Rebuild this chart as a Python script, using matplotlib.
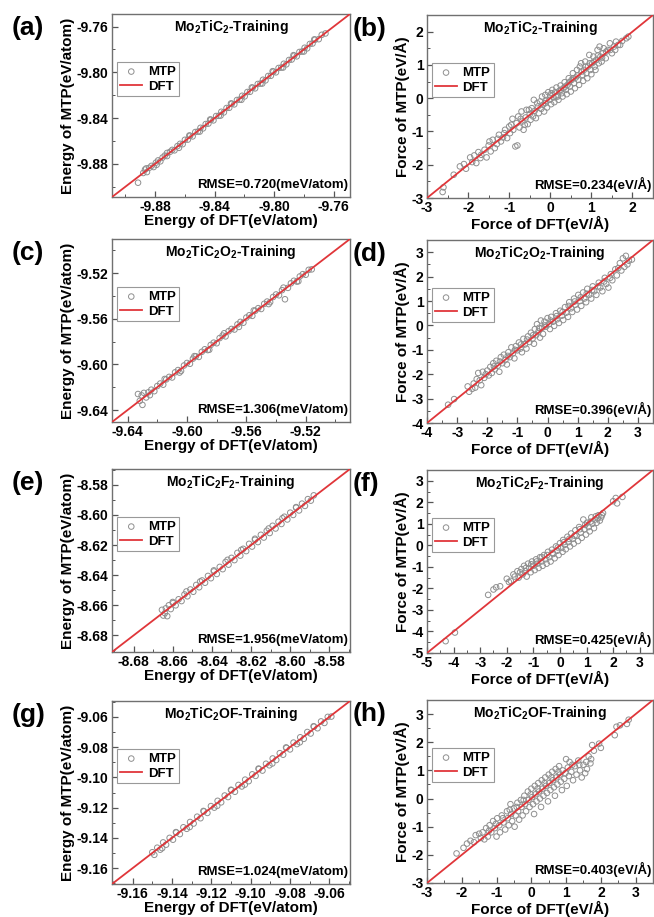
import numpy as np
import matplotlib.pyplot as plt
from matplotlib.ticker import MultipleLocator, AutoMinorLocator

plt.rcParams['font.family'] = 'Liberation Sans'
plt.rcParams['font.weight'] = 'bold'
plt.rcParams['axes.unicode_minus'] = False
plt.rcParams['mathtext.fontset'] = 'custom'
plt.rcParams['mathtext.rm'] = 'Liberation Sans:bold'
plt.rcParams['mathtext.it'] = 'Liberation Sans:bold'
plt.rcParams['mathtext.bf'] = 'Liberation Sans:bold'

# (DFT, MTP) energy pairs, eV/atom
energy_a = [(-9.8915, -9.8965), (-9.8880, -9.8880), (-9.8868, -9.8850), (-9.8855, -9.8872), (-9.8840, -9.8835),
            (-9.8825, -9.8818), (-9.8810, -9.8828), (-9.8795, -9.8790), (-9.8780, -9.8770), (-9.8765, -9.8778),
            (-9.8750, -9.8745), (-9.8735, -9.8728), (-9.8720, -9.8732), (-9.8700, -9.8695), (-9.8685, -9.8678),
            (-9.8670, -9.8682), (-9.8650, -9.8645), (-9.8632, -9.8625), (-9.8615, -9.8628), (-9.8600, -9.8590),
            (-9.8580, -9.8588), (-9.8565, -9.8555), (-9.8548, -9.8560), (-9.8530, -9.8522), (-9.8512, -9.8518),
            (-9.8495, -9.8485), (-9.8478, -9.8490), (-9.8460, -9.8452), (-9.8442, -9.8448), (-9.8425, -9.8415),
            (-9.8408, -9.8420), (-9.8390, -9.8382), (-9.8372, -9.8380), (-9.8355, -9.8345), (-9.8338, -9.8350),
            (-9.8320, -9.8312), (-9.8302, -9.8310), (-9.8285, -9.8275), (-9.8268, -9.8280), (-9.8250, -9.8242),
            (-9.8232, -9.8238), (-9.8215, -9.8205), (-9.8198, -9.8210), (-9.8180, -9.8172), (-9.8162, -9.8170),
            (-9.8145, -9.8135), (-9.8128, -9.8140), (-9.8110, -9.8102), (-9.8092, -9.8098), (-9.8075, -9.8065),
            (-9.8058, -9.8070), (-9.8040, -9.8032), (-9.8022, -9.8030), (-9.8005, -9.7995), (-9.7988, -9.8000),
            (-9.7970, -9.7962), (-9.7952, -9.7958), (-9.7935, -9.7925), (-9.7918, -9.7930), (-9.7900, -9.7892),
            (-9.7882, -9.7888), (-9.7865, -9.7855), (-9.7848, -9.7860), (-9.7830, -9.7822), (-9.7812, -9.7818),
            (-9.7795, -9.7785), (-9.7778, -9.7790), (-9.7760, -9.7752), (-9.7742, -9.7748), (-9.7725, -9.7715),
            (-9.7700, -9.7710), (-9.7680, -9.7672), (-9.7655, -9.7660),
            (-9.8860, -9.8840), (-9.8790, -9.8808), (-9.8720, -9.8705), (-9.8640, -9.8660), (-9.8570, -9.8552),
            (-9.8500, -9.8518), (-9.8430, -9.8412), (-9.8360, -9.8378), (-9.8290, -9.8272), (-9.8220, -9.8240),
            (-9.8150, -9.8132), (-9.8080, -9.8098), (-9.8010, -9.7990), (-9.7940, -9.7958), (-9.7870, -9.7850),
            (-9.7800, -9.7818), (-9.7730, -9.7712)]

energy_c = [(-9.6330, -9.6260), (-9.6318, -9.6320), (-9.6300, -9.6355), (-9.6305, -9.6272), (-9.6290, -9.6250),
            (-9.6275, -9.6290), (-9.6260, -9.6245), (-9.6240, -9.6222), (-9.6220, -9.6235), (-9.6200, -9.6190),
            (-9.6180, -9.6168), (-9.6160, -9.6178), (-9.6140, -9.6132), (-9.6120, -9.6110), (-9.6100, -9.6115),
            (-9.6080, -9.6070), (-9.6060, -9.6050), (-9.6040, -9.6058), (-9.6020, -9.6010), (-9.6000, -9.5988),
            (-9.5980, -9.5995), (-9.5960, -9.5950), (-9.5940, -9.5930), (-9.5920, -9.5935), (-9.5900, -9.5890),
            (-9.5880, -9.5868), (-9.5860, -9.5875), (-9.5840, -9.5830), (-9.5820, -9.5810), (-9.5800, -9.5815),
            (-9.5780, -9.5770), (-9.5760, -9.5748), (-9.5740, -9.5755), (-9.5720, -9.5710), (-9.5700, -9.5690),
            (-9.5680, -9.5695), (-9.5660, -9.5650), (-9.5640, -9.5628), (-9.5620, -9.5635), (-9.5600, -9.5590),
            (-9.5580, -9.5570), (-9.5560, -9.5575), (-9.5540, -9.5530), (-9.5520, -9.5508), (-9.5500, -9.5515),
            (-9.5480, -9.5470), (-9.5460, -9.5450), (-9.5440, -9.5455), (-9.5420, -9.5410), (-9.5400, -9.5388),
            (-9.5380, -9.5395), (-9.5360, -9.5350), (-9.5340, -9.5430), (-9.5320, -9.5330), (-9.5300, -9.5290),
            (-9.5280, -9.5268), (-9.5260, -9.5275), (-9.5240, -9.5230), (-9.5220, -9.5210), (-9.5200, -9.5215),
            (-9.5180, -9.5172), (-9.5160, -9.5168),
            (-9.6250, -9.6270), (-9.6150, -9.6128), (-9.6050, -9.6072), (-9.5950, -9.5928), (-9.5850, -9.5872),
            (-9.5750, -9.5728), (-9.5650, -9.5672), (-9.5550, -9.5528), (-9.5450, -9.5472), (-9.5350, -9.5328),
            (-9.5250, -9.5272)]

energy_e = [(-8.6655, -8.6630), (-8.6648, -8.6668), (-8.6640, -8.6652), (-8.6635, -8.6620), (-8.6628, -8.6672),
            (-8.6620, -8.6600), (-8.6610, -8.6625), (-8.6598, -8.6585), (-8.6585, -8.6600), (-8.6570, -8.6560),
            (-8.6555, -8.6572), (-8.6540, -8.6528), (-8.6525, -8.6540), (-8.6510, -8.6495), (-8.6495, -8.6510),
            (-8.6480, -8.6465), (-8.6465, -8.6480), (-8.6450, -8.6435), (-8.6435, -8.6450), (-8.6420, -8.6405),
            (-8.6405, -8.6420), (-8.6390, -8.6375), (-8.6375, -8.6392), (-8.6360, -8.6345), (-8.6345, -8.6360),
            (-8.6330, -8.6312), (-8.6315, -8.6330), (-8.6300, -8.6285), (-8.6285, -8.6300), (-8.6270, -8.6252),
            (-8.6255, -8.6270), (-8.6240, -8.6225), (-8.6225, -8.6240), (-8.6210, -8.6192), (-8.6195, -8.6210),
            (-8.6180, -8.6165), (-8.6165, -8.6180), (-8.6150, -8.6132), (-8.6135, -8.6150), (-8.6120, -8.6105),
            (-8.6105, -8.6120), (-8.6090, -8.6072), (-8.6075, -8.6090), (-8.6060, -8.6045), (-8.6045, -8.6060),
            (-8.6030, -8.6012), (-8.6015, -8.6030), (-8.6000, -8.5985), (-8.5985, -8.6000), (-8.5970, -8.5952),
            (-8.5955, -8.5970), (-8.5940, -8.5925), (-8.5925, -8.5940), (-8.5910, -8.5895), (-8.5895, -8.5905),
            (-8.5880, -8.5870),
            (-8.6600, -8.6578), (-8.6530, -8.6508), (-8.6460, -8.6442), (-8.6390, -8.6368), (-8.6320, -8.6298),
            (-8.6250, -8.6232), (-8.6180, -8.6158), (-8.6110, -8.6090), (-8.6040, -8.6022), (-8.5970, -8.5948)]

energy_g = [(-9.1500, -9.1495), (-9.1490, -9.1512), (-9.1475, -9.1465), (-9.1460, -9.1478), (-9.1445, -9.1430),
            (-9.1430, -9.1445), (-9.1412, -9.1400), (-9.1395, -9.1412), (-9.1378, -9.1365), (-9.1360, -9.1375),
            (-9.1342, -9.1330), (-9.1325, -9.1340), (-9.1308, -9.1295), (-9.1290, -9.1305), (-9.1272, -9.1260),
            (-9.1255, -9.1270), (-9.1238, -9.1225), (-9.1220, -9.1235), (-9.1202, -9.1190), (-9.1185, -9.1200),
            (-9.1168, -9.1155), (-9.1150, -9.1165), (-9.1132, -9.1120), (-9.1115, -9.1130), (-9.1098, -9.1085),
            (-9.1080, -9.1095), (-9.1062, -9.1050), (-9.1045, -9.1060), (-9.1028, -9.1015), (-9.1010, -9.1025),
            (-9.0992, -9.0980), (-9.0975, -9.0990), (-9.0958, -9.0945), (-9.0940, -9.0955), (-9.0922, -9.0910),
            (-9.0905, -9.0920), (-9.0888, -9.0875), (-9.0870, -9.0885), (-9.0852, -9.0840), (-9.0835, -9.0850),
            (-9.0818, -9.0805), (-9.0800, -9.0815), (-9.0782, -9.0770), (-9.0765, -9.0780), (-9.0748, -9.0735),
            (-9.0730, -9.0745), (-9.0712, -9.0700), (-9.0695, -9.0710), (-9.0678, -9.0665), (-9.0660, -9.0675),
            (-9.0642, -9.0630), (-9.0625, -9.0640), (-9.0608, -9.0600), (-9.0590, -9.0598),
            (-9.1450, -9.1468), (-9.1380, -9.1362), (-9.1310, -9.1328), (-9.1240, -9.1222), (-9.1170, -9.1188),
            (-9.1100, -9.1082), (-9.1030, -9.1048), (-9.0960, -9.0942), (-9.0890, -9.0908), (-9.0820, -9.0802),
            (-9.0750, -9.0768), (-9.0680, -9.0662)]

# (DFT, MTP) force pairs, eV/A
force_b = [(-2.62, -2.82), (-2.60, -2.68), (-2.35, -2.30), (-2.10, -1.98), (-2.05, -2.12), (-1.95, -1.78),
           (-1.85, -1.72), (-1.80, -1.95), (-1.75, -1.62), (-1.68, -1.70), (-1.60, -1.55), (-1.55, -1.78),
           (-1.50, -1.42), (-1.45, -1.60), (-1.40, -1.25), (-1.35, -1.50), (-1.30, -1.38), (-1.25, -1.10),
           (-1.20, -1.30), (-1.15, -1.18), (-1.10, -0.95), (-1.05, -1.20), (-1.00, -0.85), (-0.98, -1.05),
           (-0.92, -0.62), (-0.90, -0.95), (-0.85, -1.45), (-0.80, -1.42), (-0.82, -0.75), (-0.78, -0.55),
           (-0.75, -0.88), (-0.70, -0.40), (-0.68, -0.70), (-0.65, -0.95), (-0.60, -0.58), (-0.58, -0.35),
           (-0.55, -0.78), (-0.50, -0.48), (-0.48, -0.65), (-0.45, -0.30), (-0.42, -0.55), (-0.40, -0.05),
           (-0.38, -0.38), (-0.35, -0.60), (-0.30, -0.25), (-0.28, -0.45), (-0.25, -0.10), (-0.22, -0.32),
           (-0.20, 0.05), (-0.18, -0.20), (-0.15, -0.40), (-0.12, 0.10), (-0.10, -0.08), (-0.08, -0.28),
           (-0.05, 0.18), (-0.02, -0.05), (0.00, 0.08), (0.02, -0.18), (0.05, 0.25), (0.08, 0.02),
           (0.10, -0.12), (0.12, 0.18), (0.15, 0.32), (0.18, 0.05), (0.20, -0.05), (0.22, 0.22),
           (0.25, 0.38), (0.28, 0.15), (0.30, 0.05), (0.32, 0.30), (0.35, 0.48), (0.38, 0.25),
           (0.40, 0.12), (0.42, 0.40), (0.45, 0.60), (0.48, 0.35), (0.50, 0.20), (0.52, 0.55),
           (0.55, 0.75), (0.58, 0.45), (0.60, 0.30), (0.62, 0.62), (0.65, 0.85), (0.68, 0.55),
           (0.70, 0.40), (0.72, 0.95), (0.75, 1.05), (0.78, 0.70), (0.80, 0.52), (0.82, 0.85),
           (0.85, 1.10), (0.88, 0.75), (0.90, 0.60), (0.92, 0.95), (0.95, 1.30), (0.98, 0.85),
           (1.00, 0.72), (1.02, 1.05), (1.05, 1.25), (1.08, 0.95), (1.10, 0.85), (1.12, 1.15),
           (1.15, 1.45), (1.18, 1.05), (1.20, 1.55), (1.22, 1.25), (1.25, 1.10), (1.28, 1.35),
           (1.30, 1.50), (1.35, 1.20), (1.40, 1.45), (1.45, 1.65), (1.50, 1.35), (1.55, 1.55),
           (1.60, 1.70), (1.70, 1.60), (1.85, 1.80), (1.90, 1.85),
           (-2.20, -2.05), (-1.90, -1.92), (-1.70, -1.80), (-1.48, -1.30), (-1.28, -1.22), (-1.12, -1.05),
           (-0.95, -0.80), (-0.72, -0.62), (-0.62, -0.80), (-0.52, -0.35), (-0.32, -0.15), (-0.12, -0.15),
           (0.03, 0.15), (0.14, 0.05), (0.26, 0.25), (0.36, 0.35), (0.46, 0.48), (0.56, 0.60),
           (0.66, 0.68), (0.76, 0.80), (0.86, 0.95), (0.96, 1.05), (1.06, 1.10), (1.16, 1.28),
           (1.26, 1.22), (1.36, 1.40), (1.46, 1.45), (1.58, 1.45), (1.65, 1.60), (1.75, 1.72)]

force_d = [(-3.30, -3.25), (-3.10, -3.02), (-2.65, -2.50), (-2.60, -2.72), (-2.50, -2.60), (-2.45, -2.38),
           (-2.40, -2.55), (-2.30, -1.95), (-2.25, -2.25), (-2.20, -2.45), (-2.15, -1.90), (-2.10, -2.15),
           (-2.00, -1.85), (-1.95, -2.05), (-1.90, -1.70), (-1.85, -1.95), (-1.80, -1.55), (-1.75, -1.80),
           (-1.70, -1.45), (-1.65, -1.65), (-1.60, -1.90), (-1.55, -1.30), (-1.50, -1.55), (-1.45, -1.20),
           (-1.40, -1.42), (-1.35, -1.60), (-1.30, -1.10), (-1.25, -1.30), (-1.20, -0.90), (-1.15, -1.15),
           (-1.10, -1.35), (-1.05, -0.85), (-1.00, -1.02), (-0.95, -0.70), (-0.90, -0.95), (-0.85, -1.10),
           (-0.80, -0.55), (-0.75, -0.78), (-0.70, -0.95), (-0.65, -0.45), (-0.60, -0.68), (-0.55, -0.30),
           (-0.50, -0.55), (-0.45, -0.75), (-0.42, -0.15), (-0.38, -0.40), (-0.35, 0.05), (-0.30, -0.25),
           (-0.25, -0.50), (-0.22, 0.20), (-0.18, -0.10), (-0.15, -0.35), (-0.10, 0.15), (-0.05, -0.05),
           (0.00, 0.30), (0.05, 0.05), (0.08, -0.15), (0.12, 0.35), (0.18, 0.15), (0.22, -0.02),
           (0.28, 0.50), (0.32, 0.25), (0.38, 0.10), (0.42, 0.60), (0.48, 0.40), (0.52, 0.22),
           (0.58, 0.75), (0.62, 0.52), (0.68, 0.35), (0.72, 0.95), (0.78, 0.70), (0.82, 0.55),
           (0.88, 1.10), (0.92, 0.85), (0.98, 0.65), (1.02, 1.25), (1.08, 1.00), (1.12, 0.80),
           (1.18, 1.35), (1.22, 1.10), (1.28, 0.95), (1.32, 1.50), (1.38, 1.25), (1.45, 1.10),
           (1.50, 1.60), (1.55, 1.40), (1.62, 1.25), (1.70, 1.75), (1.75, 1.55), (1.82, 1.40),
           (1.90, 1.95), (1.95, 1.70), (2.02, 1.55), (2.10, 2.10), (2.15, 1.85), (2.25, 2.30),
           (2.30, 2.05), (2.40, 2.55), (2.45, 2.25), (2.50, 2.75), (2.55, 2.40), (2.60, 2.85),
           (2.70, 2.65), (2.80, 2.70),
           (-2.35, -2.20), (-2.05, -2.00), (-1.78, -1.68), (-1.58, -1.48), (-1.32, -1.25), (-1.08, -1.00),
           (-0.88, -0.78), (-0.68, -0.58), (-0.48, -0.40), (-0.28, -0.10), (-0.08, 0.00), (0.10, 0.20),
           (0.30, 0.38), (0.50, 0.55), (0.70, 0.80), (0.90, 0.98), (1.10, 1.15), (1.30, 1.30),
           (1.48, 1.45), (1.68, 1.60), (1.88, 1.80), (2.08, 1.95), (2.35, 2.35), (2.65, 2.50)]

force_f = [(-4.30, -4.45), (-3.95, -4.05), (-2.70, -2.30), (-2.50, -2.05), (-2.40, -1.95), (-2.00, -1.55),
           (-1.85, -1.65), (-1.70, -1.45), (-1.60, -1.20), (-1.55, -1.50), (-1.45, -1.10), (-1.40, -1.35),
           (-1.35, -0.95), (-1.30, -1.20), (-1.25, -1.45), (-1.20, -0.85), (-1.15, -1.05), (-1.10, -1.25),
           (-1.05, -0.75), (-1.00, -0.95), (-0.95, -1.15), (-0.90, -0.65), (-0.85, -0.85), (-0.80, -1.05),
           (-0.75, -0.55), (-0.70, -0.75), (-0.65, -0.95), (-0.60, -0.45), (-0.55, -0.65), (-0.50, -0.85),
           (-0.45, -0.30), (-0.40, -0.55), (-0.35, -0.75), (-0.30, -0.20), (-0.25, -0.40), (-0.20, -0.60),
           (-0.15, -0.05), (-0.10, -0.25), (-0.05, -0.45), (0.00, 0.10), (0.05, -0.12), (0.10, -0.30),
           (0.12, 0.25), (0.18, 0.02), (0.22, -0.18), (0.28, 0.40), (0.32, 0.15), (0.38, -0.05),
           (0.42, 0.55), (0.48, 0.30), (0.52, 0.08), (0.58, 0.70), (0.62, 0.45), (0.68, 0.20),
           (0.72, 0.85), (0.78, 0.60), (0.82, 0.35), (0.88, 1.20), (0.92, 0.75), (0.98, 0.50),
           (1.02, 1.05), (1.08, 0.85), (1.12, 0.65), (1.18, 1.30), (1.22, 1.00), (1.28, 0.80),
           (1.32, 1.20), (1.38, 1.05), (1.45, 1.40), (1.50, 1.15), (1.55, 1.30), (1.62, 1.50),
           (2.00, 2.05), (2.10, 2.20), (2.15, 1.95), (2.35, 2.25),
           (-2.25, -1.90), (-1.92, -1.70), (-1.75, -1.35), (-1.50, -1.25), (-1.28, -1.05), (-1.08, -0.88),
           (-0.88, -0.75), (-0.68, -0.55), (-0.48, -0.45), (-0.28, -0.35), (-0.08, -0.10), (0.15, 0.15),
           (0.35, 0.30), (0.55, 0.45), (0.75, 0.75), (0.95, 0.95), (1.15, 1.10), (1.35, 1.35),
           (1.42, 1.25), (1.58, 1.40)]

force_h = [(-2.15, -1.95), (-1.95, -1.75), (-1.85, -1.60), (-1.75, -1.50), (-1.60, -1.30), (-1.50, -1.25),
           (-1.40, -1.20), (-1.35, -1.45), (-1.30, -1.05), (-1.25, -1.35), (-1.20, -0.95), (-1.15, -1.20),
           (-1.10, -0.80), (-1.05, -1.05), (-1.00, -1.35), (-0.98, -0.70), (-0.92, -0.95), (-0.90, -1.20),
           (-0.85, -0.60), (-0.80, -0.85), (-0.75, -1.10), (-0.70, -0.45), (-0.68, -0.70), (-0.65, -0.95),
           (-0.60, -0.20), (-0.58, -0.55), (-0.55, -0.80), (-0.50, -0.35), (-0.48, -1.00), (-0.45, -0.60),
           (-0.40, -0.15), (-0.38, -0.45), (-0.35, -0.75), (-0.30, -0.05), (-0.28, -0.30), (-0.25, -0.60),
           (-0.20, 0.10), (-0.18, -0.20), (-0.15, -0.45), (-0.10, 0.25), (-0.08, -0.05), (-0.05, -0.30),
           (0.00, 0.35), (0.02, 0.05), (0.05, -0.20), (0.08, -0.55), (0.10, 0.45), (0.12, 0.15),
           (0.15, -0.10), (0.20, 0.55), (0.22, 0.25), (0.25, 0.00), (0.28, -0.30), (0.30, 0.65),
           (0.32, 0.35), (0.35, 0.10), (0.40, 0.75), (0.42, 0.45), (0.45, 0.20), (0.48, -0.10),
           (0.50, 0.85), (0.52, 0.55), (0.55, 0.30), (0.60, 0.95), (0.62, 0.65), (0.65, 0.40),
           (0.68, 0.10), (0.70, 1.05), (0.72, 0.75), (0.75, 0.50), (0.80, 1.15), (0.82, 0.85),
           (0.85, 0.60), (0.88, 0.30), (0.90, 1.00), (0.95, 0.70), (1.00, 1.40), (1.02, 0.45),
           (1.05, 1.10), (1.08, 0.80), (1.10, 1.30), (1.15, 0.95), (1.20, 0.65), (1.25, 1.15),
           (1.30, 0.85), (1.35, 1.35), (1.40, 1.00), (1.45, 0.75), (1.50, 1.20), (1.55, 0.90),
           (1.60, 1.05), (1.65, 1.50), (1.70, 1.25), (1.75, 1.90), (1.80, 1.70), (1.95, 1.95),
           (2.00, 1.80), (2.40, 2.25), (2.45, 2.55), (2.55, 2.60), (2.75, 2.65), (2.80, 2.80),
           (-1.65, -1.55), (-1.45, -1.40), (-1.22, -1.15), (-1.02, -0.90), (-0.82, -0.70), (-0.62, -0.40),
           (-0.42, -0.30), (-0.22, -0.05), (-0.02, 0.15), (0.18, 0.35), (0.38, 0.55), (0.58, 0.75),
           (0.78, 0.95), (0.98, 0.90), (1.18, 1.20), (1.38, 1.20), (1.58, 1.30), (1.72, 1.40)]

titles = [r'Mo$_2$TiC$_2$-Training', r'Mo$_2$TiC$_2$O$_2$-Training',
          r'Mo$_2$TiC$_2$F$_2$-Training', r'Mo$_2$TiC$_2$OF-Training']
rmse_energy = ['0.720', '1.306', '1.956', '1.024']
rmse_force = ['0.234', '0.396', '0.425', '0.403']
energy_lims = [(-9.909, -9.749), (-9.6505, -9.4902), (-8.691, -8.5695), (-9.1705, -9.0495)]
energy_step = [0.04, 0.04, 0.02, 0.02]
force_lims = [(-3, 2.5), (-4, 3.5), (-5, 3.5), (-3, 3.5)]
letters = ['a', 'b', 'c', 'd', 'e', 'f', 'g', 'h']

W, H = 654, 917
fig = plt.figure(figsize=(W / 100, H / 100), dpi=100)

left_top = [14, 239, 469, 701]
right_top = [15, 240, 470, 700]


def px_axes(x0, top, w, h):
    return fig.add_axes([x0 / W, 1 - (top + h) / H, w / W, h / H])


def style(ax, lims, step, minor):
    ax.set_xlim(lims)
    ax.set_ylim(lims)
    ax.xaxis.set_major_locator(MultipleLocator(step))
    ax.yaxis.set_major_locator(MultipleLocator(step))
    ax.xaxis.set_minor_locator(AutoMinorLocator(minor))
    ax.yaxis.set_minor_locator(AutoMinorLocator(minor))
    ax.tick_params(which='both', direction='in', labelsize=10, color='#555555')
    ax.tick_params(which='major', length=4, width=0.9)
    ax.tick_params(which='minor', length=2, width=0.7)
    ax.tick_params(axis='x', pad=2.5)
    ax.tick_params(axis='y', pad=2.5)
    for lab in ax.get_xticklabels() + ax.get_yticklabels():
        lab.set_fontweight('bold')
    for s in ax.spines.values():
        s.set_color('#707070')
        s.set_linewidth(1.0)


def draw(ax, pts, lims, title, rmse, xlabel, ylabel):
    pts = np.array(pts)
    ax.scatter(pts[:, 0], pts[:, 1], s=16, facecolors='none', edgecolors='#8f8f8f',
               linewidths=0.7, label='MTP', zorder=2)
    ax.plot(lims, lims, color='#e0363a', lw=1.3, label='DFT', zorder=3)
    ax.text(0.5, 0.93, title, transform=ax.transAxes, ha='center', va='center',
            fontsize=10, fontweight='bold')
    ax.text(0.993, 0.035, rmse, transform=ax.transAxes, ha='right', va='bottom',
            fontsize=9.5, fontweight='bold')
    ax.set_xlabel(xlabel, fontsize=11, fontweight='bold', labelpad=0)
    ax.set_ylabel(ylabel, fontsize=11, fontweight='bold', labelpad=1)
    leg = ax.legend(loc='upper left', bbox_to_anchor=(0.02, 0.735), borderaxespad=0,
                    fancybox=False, fontsize=9.5, handlelength=1.7, handletextpad=0.4,
                    borderpad=0.25, labelspacing=0.2, framealpha=1)
    leg.get_frame().set_edgecolor('#999999')
    leg.get_frame().set_linewidth(0.8)
    for t in leg.get_texts():
        t.set_fontweight('bold')


energy_sets = [energy_a, energy_c, energy_e, energy_g]
force_sets = [force_b, force_d, force_f, force_h]

for i in range(4):
    ax = px_axes(112, left_top[i], 238, 183)
    style(ax, energy_lims[i], energy_step[i], 2)
    draw(ax, energy_sets[i], energy_lims[i], titles[i], 'RMSE=' + rmse_energy[i] + '(meV/atom)',
         'Energy of DFT(eV/atom)', 'Energy of MTP(eV/atom)')
    fig.text(12 / W, 1 - (left_top[i] + 14) / H, '(' + letters[2 * i] + ')',
             fontsize=19, fontweight='bold', va='center', ha='left')

    ax = px_axes(427, right_top[i], 226, 183)
    style(ax, force_lims[i], 1, 2)
    draw(ax, force_sets[i], force_lims[i], titles[i], 'RMSE=' + rmse_force[i] + '(eV/Å)',
         'Force of DFT(eV/Å)', 'Force of MTP(eV/Å)')
    fig.text(353 / W, 1 - (right_top[i] + 14) / H, '(' + letters[2 * i + 1] + ')',
             fontsize=19, fontweight='bold', va='center', ha='left')

fig.savefig('out.png', dpi=100)
